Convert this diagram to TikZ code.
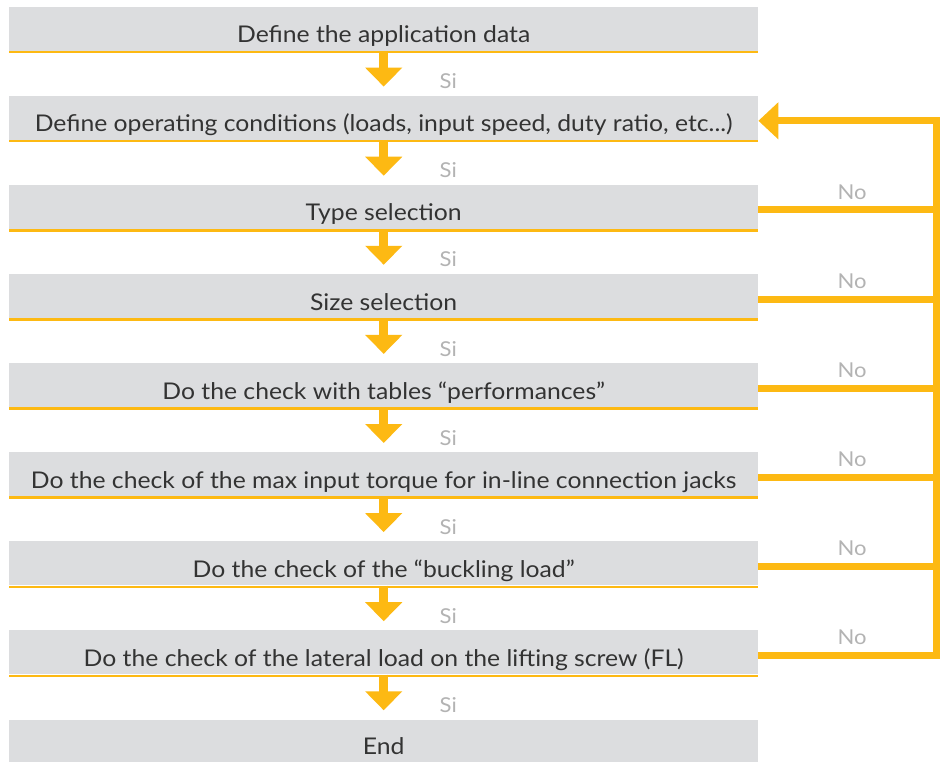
\documentclass[tikz,border=0pt]{standalone}
\usepackage{fontspec}
\setmainfont{Lato}[FakeStretch=1.075]
\usetikzlibrary{arrows.meta}
\definecolor{boxgray}{HTML}{DCDDDF}
\definecolor{gold}{HTML}{FDB913}
\definecolor{txt}{HTML}{333333}
\definecolor{lbl}{HTML}{B3B3B3}
\begin{document}
\begin{tikzpicture}[x=1pt,y=-1pt,
  stepbox/.style={rectangle, fill=boxgray, minimum width=749pt, minimum height=44pt,
    inner sep=0pt, text height=36pt, text depth=8pt, anchor=north west,
    font=\fontsize{23}{27}\selectfont, text=txt},
  uline/.style={draw=gold, line width=2.5pt},
  downarrow/.style={draw=gold, line width=9pt, -{Triangle[width=36pt,length=19pt]}, shorten >=9pt},
  fb/.style={draw=gold, line width=7pt, line join=miter},
  fbarrow/.style={fb, -{Triangle[width=36pt,length=20pt]}},
  sino/.style={text=lbl, font=\fontsize{20.5}{24}\selectfont, inner sep=0pt}]
\useasboundingbox[fill=white] (0,0) rectangle (945,762);
% boxes
\node[stepbox] (b1) at (9,6.5)   {Define the application data};
\node[stepbox] (b2) at (9,95.6)  {Define operating conditions (loads, input speed, duty ratio, etc...)};
\node[stepbox] (b3) at (9,184.7) {Type selection};
\node[stepbox] (b4) at (9,273.8) {Size selection};
\node[stepbox] (b5) at (9,362.9) {Do the check with tables “performances”};
\node[stepbox] (b6) at (9,452.0) {Do the check of the max input torque for in-line connection jacks};
\node[stepbox] (b7) at (9,541.1) {Do the check of the “buckling load”};
\node[stepbox] (b8) at (9,630.2) {Do the check of the lateral load on the lifting screw (FL)};
\node[stepbox, minimum height=43pt, text height=35pt] (b9) at (9,719.3) {End};
% underlines
\foreach \b in {b1,b2,b3,b4,b5,b6,b7,b8}{
  \draw[uline] ([yshift=-1.25pt]\b.south west) -- ([yshift=-1.25pt]\b.south east);
}
% down arrows
\draw[downarrow] (b1.south) -- (b2.north);
\draw[downarrow] (b2.south) -- (b3.north);
\draw[downarrow] (b3.south) -- (b4.north);
\draw[downarrow] (b4.south) -- (b5.north);
\draw[downarrow] (b5.south) -- (b6.north);
\draw[downarrow] (b6.south) -- (b7.north);
\draw[downarrow] (b7.south) -- (b8.north);
\draw[downarrow] (b8.south) -- (b9.north);
% Si labels
\foreach \b in {b1,b2,b3,b4,b5,b6,b7,b8}{
  \node[sino] at ([xshift=64.5pt,yshift=-30.5pt]\b.south) {Si};
}
% feedback rail
\coordinate (rail) at (936,0);
\draw[fbarrow] ([yshift=-3pt]b8.east) -- ([yshift=-3pt]b8.east -| rail)
   -- ([yshift=-3pt]b2.east -| rail) -- ([yshift=-3pt]b2.east);
\foreach \b in {b3,b4,b5,b6,b7}{
  \draw[fb] ([yshift=-3pt]\b.east) -- ([yshift=-3pt]\b.east -| rail);
}
% No labels
\foreach \b in {b3,b4,b5,b6,b7,b8}{
  \node[sino] at ([yshift=15pt]\b.east -| 852,0) {No};
}
\end{tikzpicture}
\end{document}
